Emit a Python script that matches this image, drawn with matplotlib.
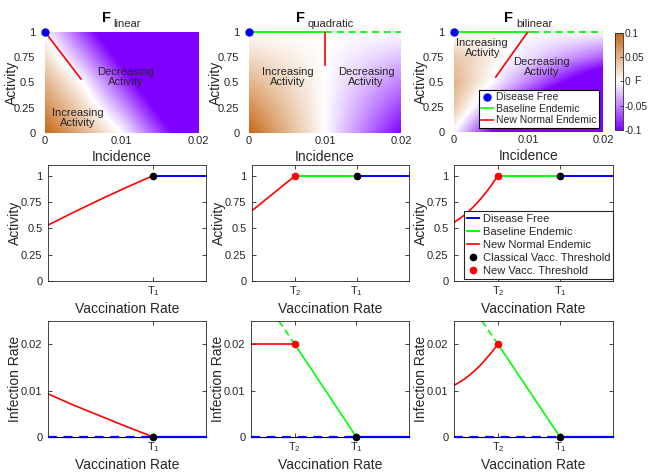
import numpy as np
import matplotlib
matplotlib.use("Agg")
import matplotlib.pyplot as plt
from matplotlib.colors import LinearSegmentedColormap
from matplotlib.lines import Line2D

plt.rcParams['font.family'] = ['Liberation Sans', 'DejaVu Sans']
plt.rcParams['mathtext.fontset'] = 'custom'
plt.rcParams['mathtext.rm'] = 'Liberation Sans'
plt.rcParams['mathtext.it'] = 'Liberation Sans:italic'
plt.rcParams['mathtext.bf'] = 'Liberation Sans:bold'
plt.rcParams['axes.unicode_minus'] = False

# ---- top row: F maps, rows = activity, cols = incidence ----
incidence_grid = [0, 0.005, 0.01, 0.015, 0.02]
activity_grid = [0, 0.25, 0.5, 0.75, 1]
F_linear = [[0.1, 0.05, 0.0, -0.075, -0.15],
            [0.075, 0.025, -0.0375, -0.1125, -0.1875],
            [0.05, 0.0, -0.075, -0.15, -0.225],
            [0.025, -0.0375, -0.1125, -0.1875, -0.2625],
            [0.0, -0.075, -0.15, -0.225, -0.3]]
F_quadratic = [[0.1, 0.05, 0.0, -0.05, -0.1],
               [0.075, 0.0375, 0.0, -0.0375, -0.075],
               [0.05, 0.025, 0.0, -0.025, -0.05],
               [0.025, 0.0125, 0.0, -0.0125, -0.025],
               [0.0, 0.0, 0.0, 0.0, 0.0]]
F_bilinear = [[0.0, -0.1, -0.2, -0.3, -0.4],
              [0.0375, -0.0375, -0.1125, -0.1875, -0.2625],
              [0.05, 0.0, -0.05, -0.1, -0.15],
              [0.0375, 0.0125, -0.0125, -0.0375, -0.0625],
              [0.0, 0.0, 0.0, 0.0, 0.0]]

# equilibria in the (incidence, activity) plane
lin_red_I = [0, 0.0047]
lin_red_A = [1, 0.535]
quad_green_I = [0, 0.01]
quad_dash_I = [0.01, 0.02]
quad_red_I = [0.01, 0.01]
quad_red_A = [1, 0.67]
bil_green_I = [0, 0.0105]
bil_dash_I = [0.0105, 0.02]
bil_red_I = [0.0056, 0.0099]
bil_red_A = [0.55, 1.0]

# ---- vaccination rate axis ----
T1 = 1.0
T2 = 0.415
v_max = 1.5

# middle row: activity vs vaccination rate
act_lin_v = [0, 0.25, 0.5, 0.75, 1.0]
act_lin = [0.53, 0.655, 0.775, 0.89, 1.0]
act_quad_v = [0, T2]
act_quad = [0.667, 1.0]
act_bil_v = [0, 0.05, 0.1, 0.15, 0.2, 0.25, 0.3, 0.35, 0.415]
act_bil = [0.556, 0.589, 0.627, 0.671, 0.721, 0.777, 0.838, 0.904, 1.0]

# bottom row: infection rate vs vaccination rate
inf_lin_v = [0, 0.25, 0.5, 0.75, 1.0]
inf_lin = [0.0093, 0.0068, 0.0045, 0.0022, 0.0]
inf_quad_v = [0, T2]
inf_quad = [0.02, 0.02]
base_v = [T2, T1]
base_inf = [0.02, 0.0]
base_dash_v = [0.265, T2]
base_dash_inf = [0.025, 0.02]
inf_bil_v = [0, 0.05, 0.1, 0.15, 0.2, 0.25, 0.3, 0.35, 0.415]
inf_bil = [0.0111, 0.0118, 0.0125, 0.0134, 0.0144, 0.0155, 0.0168, 0.0181, 0.020]

W, H = 648, 472
fig = plt.figure(figsize=(W / 100, H / 100), dpi=100)
gray = (0.15, 0.15, 0.15)

def px_axes(l, t, r, b):
    return fig.add_axes([l / W, 1 - b / H, (r - l) / W, (b - t) / H])

def style(ax):
    ax.tick_params(direction='in', top=True, right=True, length=3, width=0.6,
                   colors=gray, labelsize=8, pad=2)
    ax.tick_params(axis='y', pad=4)
    for s in ax.spines.values():
        s.set_color(gray)
        s.set_linewidth(0.6)

def place_ylabel(ax, text):
    ax.set_ylabel(text, fontsize=10, color=gray)
    w_px = ax.get_position().width * W
    ax.yaxis.set_label_coords(-26 / w_px, 0.5)

cmap = LinearSegmentedColormap.from_list(
    'purple_brown', [(0.5, 0.0, 1.0), (1, 1, 1), (0.78, 0.40, 0.08)])

dI = 0.0025
dA = 0.125
ext = [-dI, 0.02 + dI, -dA, 1 + dA]

renderer = fig.canvas.get_renderer()

def split_title(ax, sub):
    # bold F with a big, low subscript, centred over the axes
    bb = ax.get_position()
    tF = fig.text(0, 0, 'F', fontsize=10.5, fontweight='bold', color='k', va='baseline')
    tS = fig.text(0, 0, sub, fontsize=8, color=gray, va='baseline')
    wF = tF.get_window_extent(renderer).width
    wS = tS.get_window_extent(renderer).width
    gap = 3
    left = (bb.x0 + bb.x1) / 2 * W - (wF + gap + wS) / 2
    tF.set_position((left / W, 1 - 22 / H))
    tS.set_position(((left + wF + gap) / W, 1 - 27 / H))

top_axes = [px_axes(45, 32, 198, 133), px_axes(249, 32, 401, 133), px_axes(454, 32, 603, 132)]
fields = [F_linear, F_quadratic, F_bilinear]
names = ['linear', 'quadratic', 'bilinear']
for ax, fld, nm in zip(top_axes, fields, names):
    im = ax.imshow(np.array(fld), origin='lower', extent=ext, aspect='auto', cmap=cmap,
                   vmin=-0.1, vmax=0.1, interpolation='bilinear', interpolation_stage='data')
    ax.set_xlim(0, 0.02)
    ax.set_ylim(0, 1)
    style(ax)
    ax.tick_params(length=0)
    ax.tick_params(axis='y', pad=7)
    for s in ax.spines.values():
        s.set_visible(False)
    ax.set_xticks([0, 0.01, 0.02])
    ax.set_xticklabels(['0', '0.01', '0.02'])
    ax.set_yticks([0, 0.25, 0.5, 0.75, 1])
    ax.set_yticklabels(['0', '0.25', '0.5', '0.75', '1'])
    ax.set_xlabel('Incidence', fontsize=10, color=gray, labelpad=3)
    place_ylabel(ax, 'Activity')
    split_title(ax, nm)
    ax.plot([0], [1], 'o', color='b', ms=5, clip_on=False, zorder=6)

txt = dict(fontsize=8, color=gray, ha='center', va='center', linespacing=0.95)
ax = top_axes[0]
ax.plot(lin_red_I, lin_red_A, color='r', lw=1.2)
ax.text(0.0105, 0.555, 'Decreasing\nActivity', **txt)
ax.text(0.0043, 0.15, 'Increasing\nActivity', **txt)

ax = top_axes[1]
ax.plot(quad_green_I, [1, 1], color=(0, 1, 0), lw=1.3, clip_on=False)
ax.plot(quad_dash_I, [1, 1], color=(0, 1, 0), lw=1.3, ls=(0, (4, 2.5)), clip_on=False)
ax.plot(quad_red_I, quad_red_A, color='r', lw=1.2)
ax.text(0.0051, 0.555, 'Increasing\nActivity', **txt)
ax.text(0.0154, 0.555, 'Decreasing\nActivity', **txt)

ax = top_axes[2]
ax.plot(bil_green_I, [1, 1], color=(0, 1, 0), lw=1.3, clip_on=False)
ax.plot(bil_dash_I, [1, 1], color=(0, 1, 0), lw=1.3, ls=(0, (4, 2.5)), clip_on=False)
ax.plot(bil_red_I, bil_red_A, color='r', lw=1.2)
ax.text(0.0038, 0.84, 'Increasing\nActivity', **txt)
ax.text(0.0118, 0.65, 'Decreasing\nActivity', **txt)
h1 = [Line2D([], [], color='b', marker='o', ls='none', ms=5),
      Line2D([], [], color=(0, 1, 0), lw=1.2),
      Line2D([], [], color='r', lw=1.2)]
leg = ax.legend(h1, ['Disease Free', 'Baseline Endemic', 'New Normal Endemic'],
                loc='lower right', bbox_to_anchor=(599 / W, 1 - 128 / H),
                bbox_transform=fig.transFigure, borderaxespad=0, fontsize=7.5,
                handlelength=1.1, handletextpad=0.3, labelspacing=0.15, borderpad=0.25,
                fancybox=False, framealpha=1, edgecolor='k')
leg.get_frame().set_linewidth(0.8)
for t in leg.get_texts():
    t.set_color(gray)

cax = px_axes(615, 33, 623, 130)
cb = fig.colorbar(im, cax=cax, ticks=[-0.1, -0.05, 0, 0.05, 0.1])
cb.ax.set_yticklabels(['-0.1', '-0.05', '0', '0.05', '0.1'])
cb.ax.tick_params(direction='in', length=2, width=0.6, labelsize=7.3, colors=gray, pad=1)
cb.outline.set_edgecolor(gray)
cb.outline.set_linewidth(0.6)
cax.text(2.35, 0.5, 'F', transform=cax.transAxes, fontsize=7.5, color=gray, va='center', ha='left')

# ---- middle and bottom rows ----
mid_axes = [px_axes(48, 165, 206, 281), px_axes(252, 165, 409, 281), px_axes(454, 165, 613, 281)]
bot_axes = [px_axes(48, 321, 206, 437), px_axes(251, 321, 409, 437), px_axes(454, 321, 613, 437)]

def vacc_axes(ax, two):
    style(ax)
    ax.set_xlim(0, v_max)
    if two:
        ax.set_xticks([T2, T1])
        ax.set_xticklabels([r'$\mathrm{T}_2$', r'$\mathrm{T}_1$'])
    else:
        ax.set_xticks([T1])
        ax.set_xticklabels([r'$\mathrm{T}_1$'])
    ax.set_xlabel('Vaccination Rate', fontsize=10, color=gray, labelpad=3)

for i, ax in enumerate(mid_axes):
    vacc_axes(ax, i > 0)
    ax.set_ylim(0, 1.1)
    ax.set_yticks([0, 0.25, 0.5, 0.75, 1])
    ax.set_yticklabels(['0', '0.25', '0.5', '0.75', '1'])
    place_ylabel(ax, 'Activity')
    ax.plot([T1, v_max], [1, 1], color='b', lw=1.4)
    if i > 0:
        ax.plot([T2, T1], [1, 1], color=(0, 1, 0), lw=1.4)
    ax.plot([T1], [1], 'o', color='k', ms=4.5, zorder=5)

mid_axes[0].plot(act_lin_v, act_lin, color='r', lw=1.2)
mid_axes[1].plot(act_quad_v, act_quad, color='r', lw=1.2)
mid_axes[1].plot([T2], [1], 'o', color='r', ms=4.5, zorder=5)
mid_axes[2].plot(act_bil_v, act_bil, color='r', lw=1.2)
mid_axes[2].plot([T2], [1], 'o', color='r', ms=4.5, zorder=5)

h2 = [Line2D([], [], color='b', lw=1.4),
      Line2D([], [], color=(0, 1, 0), lw=1.4),
      Line2D([], [], color='r', lw=1.2),
      Line2D([], [], color='k', marker='o', ls='none', ms=4.5),
      Line2D([], [], color='r', marker='o', ls='none', ms=4.5)]
leg2 = mid_axes[2].legend(h2, ['Disease Free', 'Baseline Endemic', 'New Normal Endemic',
                               'Classical Vacc. Threshold', 'New Vacc. Threshold'],
                          loc='lower right', bbox_to_anchor=(613 / W, 1 - 279 / H),
                          bbox_transform=fig.transFigure, borderaxespad=0, fontsize=8,
                          handlelength=1.1, handletextpad=0.3, labelspacing=0.28,
                          borderpad=0.25, fancybox=False, framealpha=1, edgecolor=gray)
leg2.get_frame().set_linewidth(0.8)
for t in leg2.get_texts():
    t.set_color(gray)

for i, ax in enumerate(bot_axes):
    vacc_axes(ax, i > 0)
    ax.set_ylim(0, 0.025)
    ax.set_yticks([0, 0.01, 0.02])
    ax.set_yticklabels(['0', '0.01', '0.02'])
    place_ylabel(ax, 'Infection Rate')
    ax.plot([0, T1], [0, 0], color='k', lw=0.8, clip_on=False, zorder=3)
    ax.plot([0, T1], [0, 0], color='b', lw=1.6, ls=(0, (4, 3)), clip_on=False, zorder=4)
    ax.plot([T1, v_max], [0, 0], color='b', lw=1.6, clip_on=False, zorder=4)
    if i > 0:
        ax.plot(base_v, base_inf, color=(0, 1, 0), lw=1.2)
        ax.plot(base_dash_v, base_dash_inf, color=(0, 1, 0), lw=1.2, ls=(0, (4, 2.5)))
    ax.plot([T1], [0], 'o', color='k', ms=4.5, clip_on=False, zorder=6)

bot_axes[0].plot(inf_lin_v, inf_lin, color='r', lw=1.2)
bot_axes[1].plot(inf_quad_v, inf_quad, color='r', lw=1.2)
bot_axes[1].plot([T2], [0.02], 'o', color='r', ms=4.5, zorder=5)
bot_axes[2].plot(inf_bil_v, inf_bil, color='r', lw=1.2)
bot_axes[2].plot([T2], [0.02], 'o', color='r', ms=4.5, zorder=5)

fig.savefig('out.png', dpi=100)
